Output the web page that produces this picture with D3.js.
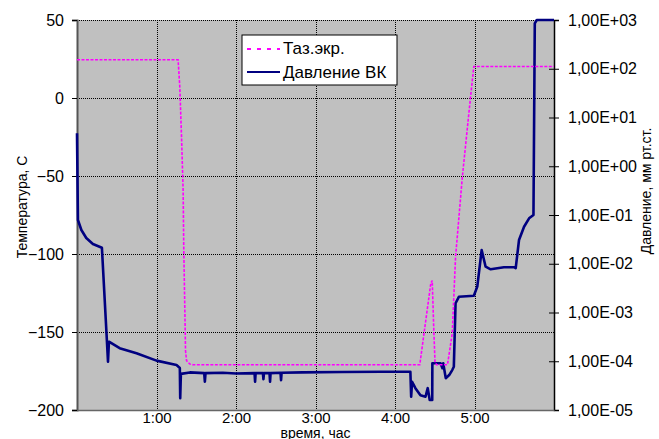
<!DOCTYPE html>
<html>
<head>
<meta charset="utf-8">
<script src="https://cdn.jsdelivr.net/npm/d3@7"></script>
<style>
body { margin: 0; background: #fff; }
svg text { font-family: Arial, "Liberation Sans", sans-serif; fill: #000; }
</style>
</head>
<body>
<svg id="chart" width="659" height="439"></svg>
<script>
// time in minutes from start
var hourTicks = [60, 120, 180, 240, 300];
var hourLabels = ["1:00", "2:00", "3:00", "4:00", "5:00"];
var tempTicks = [-200, -150, -100, -50, 0, 50];
var presTicks = [1e-5, 1e-4, 1e-3, 1e-2, 1e-1, 1e0, 1e1, 1e2, 1e3];

// Таз.экр. (left axis, C)
var shieldMin  = [0, 76.3, 77.6, 78.9, 80.1, 80.6, 81.4, 81.9, 82.7, 85.2, 87.7, 258.7, 267, 268.1, 269.3, 270.2, 271.3, 279.6, 283.2, 285.7, 290.8, 297, 299.5, 360];
var shieldTemp = [24.5, 24.5, 6.9, -25.1, -59.3, -97.8, -136.3, -162, -168.4, -170.6, -171, -171, -118.9, -117, -149, -169.5, -171, -171, -151, -102, -50.8, 0.5, 20.2, 20.2];

// Давление ВК (right axis, mm Hg)
var vacMin  = [0, 0.7, 3.3, 7.0, 12.0, 18.8, 22.6, 23.4, 24.1, 32.2, 44.9, 60.0, 75.1, 77.6, 77.9, 78.4, 85.2,
               96.0, 96.5, 97.0, 110, 120, 134.0, 134.4, 134.8, 140.3, 140.7, 141.1, 145.3, 145.7, 146.1, 153.6, 154.0, 154.4,
               170, 200, 230, 250.4, 251.6, 252.2, 252.9, 255.4, 259.2, 263.0, 264.7, 266.2, 268.1, 268.2, 274.4, 275.8, 276.4,
               278.3, 280.9, 283.2, 284.4, 285.7, 288.2, 299.5, 302.1, 305.4, 308.4, 312.2, 322.2, 329.8, 331.1, 333.6, 337.4,
               341.2, 344.5, 345.5, 347, 360];
var vacPres = [4.74, 0.0789, 0.0492, 0.0337, 0.0254, 0.0213, 2.52e-4, 9.8e-5, 2.52e-4, 1.85e-4, 1.46e-4, 1.03e-4, 8.4e-5, 7.3e-5, 1.74e-5, 5.5e-5, 5.9e-5,
               5.7e-5, 3.8e-5, 5.7e-5, 5.8e-5, 5.6e-5, 5.7e-5, 3.8e-5, 5.7e-5, 5.7e-5, 4.3e-5, 5.7e-5, 5.7e-5, 3.8e-5, 5.7e-5, 5.8e-5, 4.1e-5, 5.8e-5,
               5.9e-5, 6.0e-5, 6.1e-5, 6.1e-5, 6.1e-5, 1.87e-5, 3.8e-5, 2.8e-5, 2.0e-5, 1.87e-5, 2.8e-5, 1.6e-5, 1.6e-5, 9.1e-5, 9.1e-5, 7.2e-5, 9.1e-5,
               4.5e-5, 5.2e-5, 6.6e-5, 7.7e-5, 1.55e-3, 2.1e-3, 2.2e-3, 3.4e-3, 0.0191, 8.7e-3, 7.7e-3, 8.5e-3, 8.5e-3, 8.1e-3, 0.0307, 0.0575,
               0.0855, 0.1, 855, 1000, 1000];

var svg = d3.select("#chart"),
    margin = {top: 20, right: 105, bottom: 29, left: 77},
    width = +svg.attr("width") - margin.left - margin.right,
    height = +svg.attr("height") - margin.top - margin.bottom,
    g = svg.append("g").attr("transform", "translate(" + margin.left + "," + margin.top + ")");

var x = d3.scaleLinear().domain([0, 360]).range([0, width]);
var yT = d3.scaleLinear().domain([-200, 50]).range([height, 0]);
var yP = d3.scaleLog().domain([1e-5, 1e3]).range([height, 0]);

g.append("rect")
  .attr("width", width)
  .attr("height", height)
  .attr("fill", "#c0c0c0");

// gridlines
g.selectAll(".hgrid")
  .data(tempTicks)
  .enter().append("line")
    .attr("x1", 0).attr("x2", width)
    .attr("y1", function(d) { return yT(d) + 0.5; })
    .attr("y2", function(d) { return yT(d) + 0.5; })
    .attr("stroke", "#000")
    .attr("stroke-dasharray", "1,1");

g.selectAll(".vgrid")
  .data(hourTicks)
  .enter().append("line")
    .attr("x1", function(d) { return Math.round(x(d)) + 0.5; })
    .attr("x2", function(d) { return Math.round(x(d)) + 0.5; })
    .attr("y1", 0).attr("y2", height)
    .attr("stroke", "#000")
    .attr("stroke-dasharray", "1,1");

// left axis
var axL = g.append("g")
  .call(d3.axisLeft(yT).tickValues(tempTicks).tickSize(5).tickPadding(8));
axL.select(".domain").attr("stroke", "#555").attr("stroke-width", 2);
axL.selectAll("text").style("font-size", "16px");

// right axis, ticks crossing the line
var axR = g.append("g")
  .attr("transform", "translate(" + width + ",0)")
  .call(d3.axisRight(yP).tickValues(presTicks).tickSize(5).tickPadding(9)
    .tickFormat(function(d) {
      var e = Math.round(Math.log10(d));
      return "1,00E" + (e < 0 ? "-" : "+") + String(Math.abs(e)).padStart(2, "0");
    }));
axR.select(".domain").attr("stroke-width", 1.5);
axR.selectAll(".tick line").attr("x1", -5);
axR.selectAll("text").style("font-size", "16px");

// bottom axis
var axB = g.append("g")
  .attr("transform", "translate(0," + height + ")")
  .call(d3.axisBottom(x).tickValues(hourTicks).tickSize(0).tickPadding(2)
    .tickFormat(function(d, i) { return hourLabels[i]; }));
axB.select(".domain").attr("stroke", "#666").attr("stroke-width", 1.5);
axB.selectAll("text").style("font-size", "15px");

// series
var shieldLine = d3.line()
  .x(function(d, i) { return x(shieldMin[i]); })
  .y(function(d) { return yT(d); });

var vacLine = d3.line()
  .x(function(d, i) { return x(vacMin[i]); })
  .y(function(d) { return yP(d); });

g.append("path")
  .datum(vacPres)
  .attr("d", vacLine)
  .attr("fill", "none")
  .attr("stroke", "#000080")
  .attr("stroke-width", 2.6)
  .attr("stroke-linejoin", "round");

g.append("path")
  .datum(shieldTemp)
  .attr("d", shieldLine)
  .attr("fill", "none")
  .attr("stroke", "#ff00ff")
  .attr("stroke-width", 1.6)
  .attr("stroke-dasharray", "3,1.5");

// axis titles
svg.append("text")
  .attr("transform", "translate(27,207) rotate(-90)")
  .attr("text-anchor", "middle")
  .style("font-size", "14px")
  .text("Температура, С");

svg.append("text")
  .attr("transform", "translate(651,191) rotate(-90)")
  .attr("text-anchor", "middle")
  .style("font-size", "14px")
  .text("Давление, мм рт.ст.");

svg.append("text")
  .attr("x", margin.left + width / 2)
  .attr("y", 438)
  .attr("text-anchor", "middle")
  .style("font-size", "14px")
  .text("время, час");

// legend
var legend = svg.append("g").attr("transform", "translate(242,35)");
legend.append("rect")
  .attr("width", 155).attr("height", 50)
  .attr("fill", "#fff").attr("stroke", "#000");
legend.append("line")
  .attr("x1", 5).attr("x2", 38).attr("y1", 14).attr("y2", 14)
  .attr("stroke", "#ff00ff").attr("stroke-width", 2).attr("stroke-dasharray", "4,6");
legend.append("line")
  .attr("x1", 5).attr("x2", 38).attr("y1", 37).attr("y2", 37)
  .attr("stroke", "#000080").attr("stroke-width", 2);
legend.append("text").attr("x", 41).attr("y", 19).style("font-size", "17px").text("Таз.экр.");
legend.append("text").attr("x", 41).attr("y", 43).style("font-size", "17px").text("Давление ВК");
</script>
</body>
</html>
